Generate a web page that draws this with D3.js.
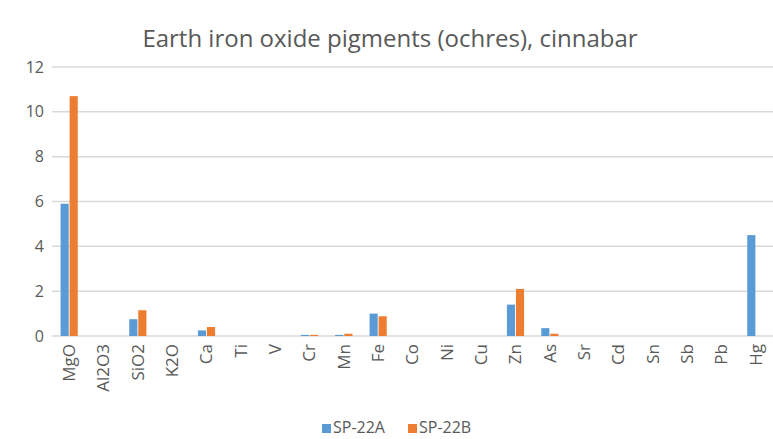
<!DOCTYPE html>
<html>
<head>
<meta charset="utf-8">
<script src="https://cdn.jsdelivr.net/npm/d3@7"></script>
<style>
  body { margin: 0; background: #fff; }
  text { font-family: "Open Sans", sans-serif; fill: #595959; }
</style>
</head>
<body>
<div id="chart"></div>
<script>
// données
const elements = ["MgO", "Al2O3", "SiO2", "K2O", "Ca", "Ti", "V", "Cr", "Mn", "Fe", "Co",
  "Ni", "Cu", "Zn", "As", "Sr", "Cd", "Sn", "Sb", "Pb", "Hg"];
const sp22A = [5.9, 0, 0.75, 0, 0.25, 0, 0, 0.05, 0.05, 1.0, 0, 0, 0, 1.4, 0.35, 0, 0, 0, 0, 0, 4.5];
const sp22B = [10.7, 0, 1.15, 0, 0.4, 0, 0, 0.05, 0.1, 0.88, 0, 0, 0, 2.1, 0.1, 0, 0, 0, 0, 0, 0];
const seriesNames = ["SP-22A", "SP-22B"];
const yTicks = [0, 2, 4, 6, 8, 10, 12];

const width = 773, height = 439;
const margin = {top: 67, right: 0, bottom: 103, left: 52};
const colors = ["#5B9BD5", "#ED7D31"];

const svg = d3.select('#chart').append('svg')
  .attr('width', width)
  .attr('height', height);

const x = d3.scaleBand()
  .domain(elements)
  .range([margin.left, width - margin.right])
  .paddingInner(0.5)
  .paddingOuter(0.25);

const xSub = d3.scaleBand()
  .domain(seriesNames)
  .range([0, x.bandwidth()])
  .paddingInner(0.1);

const y = d3.scaleLinear()
  .domain([0, 12])
  .range([height - margin.bottom, margin.top]);

// titre
svg.append('text')
  .attr('x', 390)
  .attr('y', 47)
  .attr('text-anchor', 'middle')
  .style('font-size', '24px')
  .text('Earth iron oxide pigments (ochres), cinnabar');

// grille
svg.append('g')
  .selectAll('line')
  .data(yTicks)
  .enter().append('line')
  .attr('x1', margin.left)
  .attr('x2', width - margin.right)
  .attr('y1', d => y(d))
  .attr('y2', d => y(d))
  .attr('stroke', '#d9d9d9')
  .attr('stroke-width', 1.5);

// axe y
const yAxis = d3.axisLeft(y).tickValues(yTicks).tickSize(0).tickPadding(8);
svg.append('g')
  .attr('transform', `translate(${margin.left},0)`)
  .call(yAxis)
  .call(g => g.select('.domain').remove())
  .selectAll('text')
  .style('font-size', '16px')
  .style('font-family', '"Open Sans", sans-serif')
  .attr('fill', '#595959');

// barres
const data = [sp22A, sp22B];
data.forEach((vals, s) => {
  svg.append('g')
    .selectAll('rect')
    .data(vals)
    .enter().append('rect')
    .attr('x', (d, i) => x(elements[i]) + xSub(seriesNames[s]))
    .attr('y', d => y(d))
    .attr('width', xSub.bandwidth())
    .attr('height', d => y(0) - y(d))
    .attr('fill', colors[s]);
});

// axe x
const xAxis = d3.axisBottom(x).tickSize(0).tickPadding(6);
svg.append('g')
  .attr('transform', `translate(0,${y(0)})`)
  .call(xAxis)
  .call(g => g.select('.domain').remove())
  .selectAll('text')
  .style('font-size', '17px')
  .style('font-family', '"Open Sans", sans-serif')
  .attr('fill', '#595959')
  .attr('text-anchor', 'end')
  .attr('transform', 'rotate(-90)')
  .attr('x', -8)
  .attr('y', 0)
  .attr('dy', '0.35em');

// légende
const legend = svg.append('g').attr('transform', 'translate(322,433)');
const legendX = [0, 86];
seriesNames.forEach((name, i) => {
  legend.append('rect')
    .attr('x', legendX[i])
    .attr('y', -9)
    .attr('width', 9)
    .attr('height', 9)
    .attr('fill', colors[i]);
  legend.append('text')
    .attr('x', legendX[i] + 11)
    .attr('y', 0)
    .style('font-size', '16px')
    .text(name);
});
</script>
</body>
</html>
